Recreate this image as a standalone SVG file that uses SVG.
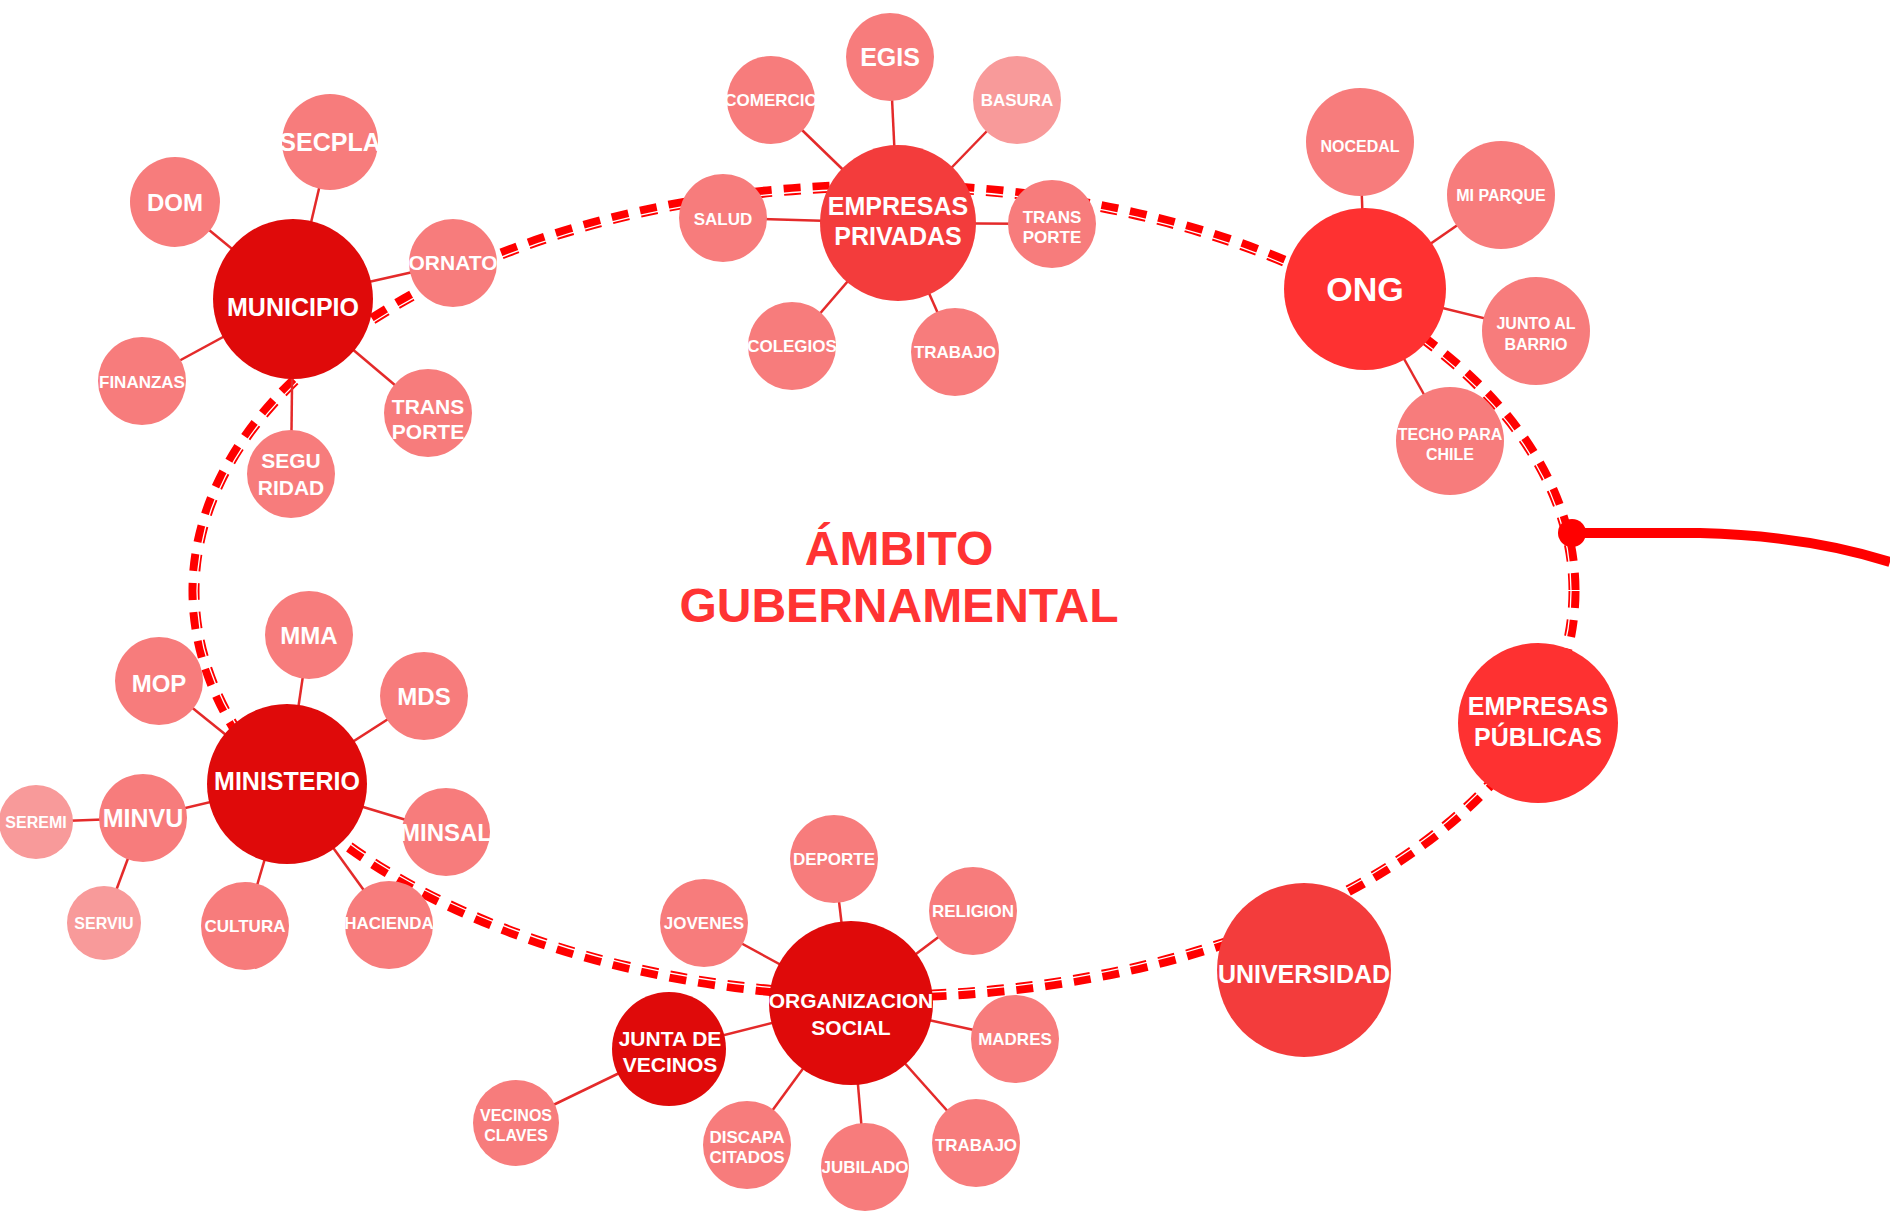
<svg xmlns="http://www.w3.org/2000/svg" width="1890" height="1216" viewBox="0 0 1890 1216">
<style>
  .sat{fill:#f77c7c}
  .satl{fill:#f89a9a}
  .dark{fill:#df0a0a}
  .mid{fill:#f33c3c}
  .bright{fill:#fe3131}
  .spoke{stroke:#e42a2a;stroke-width:2.5;fill:none}
  text{font-family:"Liberation Sans",Arial,sans-serif;font-weight:bold;fill:#ffffff;text-anchor:middle;dominant-baseline:central}
  .s17{font-size:17px}
  .s16{font-size:16px}
  .s21{font-size:21px}
  .s24{font-size:24px}
  .s25{font-size:25px}
  .title{font-size:48px;fill:#ff3333}
</style>
<rect width="1890" height="1216" fill="#ffffff"/>
<g id="connectors">
  <g id="ring">
    <ellipse cx="884" cy="591" rx="690" ry="405" fill="none" stroke="#ff0000" stroke-width="11" stroke-dasharray="17 12"/>
    <ellipse cx="884" cy="591" rx="687" ry="402" fill="none" stroke="#ffffff" stroke-width="1.3"/>
  </g>
  <g id="spokes">
    <line class="spoke" x1="293" y1="299" x2="175" y2="202"/>
    <line class="spoke" x1="293" y1="299" x2="330" y2="142"/>
    <line class="spoke" x1="293" y1="299" x2="453" y2="263"/>
    <line class="spoke" x1="293" y1="299" x2="142" y2="381"/>
    <line class="spoke" x1="293" y1="299" x2="428" y2="413"/>
    <line class="spoke" x1="293" y1="299" x2="291" y2="474"/>
    <line class="spoke" x1="898" y1="223" x2="890" y2="57"/>
    <line class="spoke" x1="898" y1="223" x2="771" y2="100"/>
    <line class="spoke" x1="898" y1="223" x2="1017" y2="100"/>
    <line class="spoke" x1="898" y1="223" x2="723" y2="218"/>
    <line class="spoke" x1="898" y1="223" x2="1052" y2="224"/>
    <line class="spoke" x1="898" y1="223" x2="792" y2="346"/>
    <line class="spoke" x1="898" y1="223" x2="955" y2="352"/>
    <line class="spoke" x1="1365" y1="289" x2="1360" y2="142"/>
    <line class="spoke" x1="1365" y1="289" x2="1501" y2="195"/>
    <line class="spoke" x1="1365" y1="289" x2="1536" y2="331"/>
    <line class="spoke" x1="1365" y1="289" x2="1450" y2="441"/>
    <line class="spoke" x1="287" y1="784" x2="309" y2="635"/>
    <line class="spoke" x1="287" y1="784" x2="159" y2="681"/>
    <line class="spoke" x1="287" y1="784" x2="424" y2="696"/>
    <line class="spoke" x1="287" y1="784" x2="143" y2="818"/>
    <line class="spoke" x1="143" y1="818" x2="36" y2="822"/>
    <line class="spoke" x1="143" y1="818" x2="104" y2="923"/>
    <line class="spoke" x1="287" y1="784" x2="446" y2="832"/>
    <line class="spoke" x1="287" y1="784" x2="245" y2="926"/>
    <line class="spoke" x1="287" y1="784" x2="389" y2="925"/>
    <line class="spoke" x1="851" y1="1003" x2="669" y2="1049"/>
    <line class="spoke" x1="669" y1="1049" x2="516" y2="1123"/>
    <line class="spoke" x1="851" y1="1003" x2="834" y2="859"/>
    <line class="spoke" x1="851" y1="1003" x2="704" y2="923"/>
    <line class="spoke" x1="851" y1="1003" x2="973" y2="911"/>
    <line class="spoke" x1="851" y1="1003" x2="1015" y2="1039"/>
    <line class="spoke" x1="851" y1="1003" x2="976" y2="1143"/>
    <line class="spoke" x1="851" y1="1003" x2="865" y2="1167"/>
    <line class="spoke" x1="851" y1="1003" x2="747" y2="1145"/>
  </g>
  <g id="outlink">
    <path d="M1572,533 L1700,533 C1780,535 1840,546 1890,562" fill="none" stroke="#ff0000" stroke-width="10"/>
    <circle cx="1572" cy="533" r="14" fill="#ff0000"/>
  </g>
</g>
<text class="title" x="899" y="548">ÁMBITO</text>
<text class="title" x="899" y="605">GUBERNAMENTAL</text>

<g id="municipio"><circle class="dark" cx="293" cy="299" r="80"/><text class="s25" x="293" y="307">MUNICIPIO</text></g>
<g id="dom"><circle class="sat" cx="175" cy="202" r="45"/><text class="s24" x="175" y="202">DOM</text></g>
<g id="secpla"><circle class="sat" cx="330" cy="142" r="48"/><text class="s25" x="330" y="142">SECPLA</text></g>
<g id="ornato"><circle class="sat" cx="453" cy="263" r="44"/><text class="s21" x="453" y="262">ORNATO</text></g>
<g id="finanzas"><circle class="sat" cx="142" cy="381" r="44"/><text class="s17" x="142" y="382">FINANZAS</text></g>
<g id="transporte-mun"><circle class="sat" cx="428" cy="413" r="44"/><text class="s21" x="428" y="406">TRANS</text><text class="s21" x="428" y="431">PORTE</text></g>
<g id="seguridad"><circle class="sat" cx="291" cy="474" r="44"/><text class="s21" x="291" y="460">SEGU</text><text class="s21" x="291" y="487">RIDAD</text></g>

<g id="empresas-privadas"><circle class="mid" cx="898" cy="223" r="78"/><text class="s25" x="898" y="206">EMPRESAS</text><text class="s25" x="898" y="236">PRIVADAS</text></g>
<g id="egis"><circle class="sat" cx="890" cy="57" r="44"/><text class="s25" x="890" y="57">EGIS</text></g>
<g id="comercio"><circle class="sat" cx="771" cy="100" r="44"/><text class="s17" x="771" y="100">COMERCIO</text></g>
<g id="basura"><circle class="satl" cx="1017" cy="100" r="44"/><text class="s17" x="1017" y="100">BASURA</text></g>
<g id="salud"><circle class="sat" cx="723" cy="218" r="44"/><text class="s17" x="723" y="219">SALUD</text></g>
<g id="transporte-emp"><circle class="sat" cx="1052" cy="224" r="44"/><text class="s17" x="1052" y="217">TRANS</text><text class="s17" x="1052" y="237">PORTE</text></g>
<g id="colegios"><circle class="sat" cx="792" cy="346" r="44"/><text class="s17" x="792" y="346">COLEGIOS</text></g>
<g id="trabajo-emp"><circle class="sat" cx="955" cy="352" r="44"/><text class="s17" x="955" y="352">TRABAJO</text></g>

<g id="ong"><circle class="bright" cx="1365" cy="289" r="81"/><text x="1365" y="289" style="font-size:34px">ONG</text></g>
<g id="nocedal"><circle class="sat" cx="1360" cy="142" r="54"/><text class="s16" x="1360" y="146">NOCEDAL</text></g>
<g id="mi-parque"><circle class="sat" cx="1501" cy="195" r="54"/><text class="s16" x="1501" y="195">MI PARQUE</text></g>
<g id="junto-al-barrio"><circle class="sat" cx="1536" cy="331" r="54"/><text class="s16" x="1536" y="323">JUNTO AL</text><text class="s16" x="1536" y="344">BARRIO</text></g>
<g id="techo-para-chile"><circle class="sat" cx="1450" cy="441" r="54"/><text class="s16" x="1450" y="434">TECHO PARA</text><text class="s16" x="1450" y="454">CHILE</text></g>

<g id="empresas-publicas"><circle class="bright" cx="1538" cy="723" r="80"/><text class="s25" x="1538" y="706">EMPRESAS</text><text class="s25" x="1538" y="737">PÚBLICAS</text></g>
<g id="universidad"><circle class="mid" cx="1304" cy="970" r="87"/><text class="s25" x="1304" y="974">UNIVERSIDAD</text></g>

<g id="ministerio"><circle class="dark" cx="287" cy="784" r="80"/><text class="s25" x="287" y="781">MINISTERIO</text></g>
<g id="mma"><circle class="sat" cx="309" cy="635" r="44"/><text class="s24" x="309" y="635">MMA</text></g>
<g id="mop"><circle class="sat" cx="159" cy="681" r="44"/><text class="s24" x="159" y="683">MOP</text></g>
<g id="mds"><circle class="sat" cx="424" cy="696" r="44"/><text class="s24" x="424" y="696">MDS</text></g>
<g id="minvu"><circle class="sat" cx="143" cy="818" r="44"/><text class="s25" x="143" y="818">MINVU</text></g>
<g id="seremi"><circle class="satl" cx="36" cy="822" r="37"/><text class="s16" x="36" y="822">SEREMI</text></g>
<g id="minsal"><circle class="sat" cx="446" cy="832" r="44"/><text class="s24" x="446" y="832">MINSAL</text></g>
<g id="serviu"><circle class="satl" cx="104" cy="923" r="37"/><text class="s16" x="104" y="923">SERVIU</text></g>
<g id="cultura"><circle class="sat" cx="245" cy="926" r="44"/><text class="s17" x="245" y="926">CULTURA</text></g>
<g id="hacienda"><circle class="sat" cx="389" cy="925" r="44"/><text class="s17" x="389" y="923">HACIENDA</text></g>

<g id="organizacion-social"><circle class="dark" cx="851" cy="1003" r="82"/><text class="s21" x="851" y="1000">ORGANIZACION</text><text class="s21" x="851" y="1027">SOCIAL</text></g>
<g id="junta-de-vecinos"><circle class="dark" cx="669" cy="1049" r="57"/><text class="s21" x="670" y="1038">JUNTA DE</text><text class="s21" x="670" y="1064">VECINOS</text></g>
<g id="vecinos-claves"><circle class="sat" cx="516" cy="1123" r="43"/><text class="s16" x="516" y="1115">VECINOS</text><text class="s16" x="516" y="1135">CLAVES</text></g>
<g id="deporte"><circle class="sat" cx="834" cy="859" r="44"/><text class="s17" x="834" y="859">DEPORTE</text></g>
<g id="jovenes"><circle class="sat" cx="704" cy="923" r="44"/><text class="s17" x="704" y="923">JOVENES</text></g>
<g id="religion"><circle class="sat" cx="973" cy="911" r="44"/><text class="s17" x="973" y="911">RELIGION</text></g>
<g id="madres"><circle class="sat" cx="1015" cy="1039" r="44"/><text class="s17" x="1015" y="1039">MADRES</text></g>
<g id="trabajo-org"><circle class="sat" cx="976" cy="1143" r="44"/><text class="s17" x="976" y="1145">TRABAJO</text></g>
<g id="jubilado"><circle class="sat" cx="865" cy="1167" r="44"/><text class="s17" x="865" y="1167">JUBILADO</text></g>
<g id="discapacitados"><circle class="sat" cx="747" cy="1145" r="44"/><text class="s17" x="747" y="1137">DISCAPA</text><text class="s17" x="747" y="1157">CITADOS</text></g>
</svg>
